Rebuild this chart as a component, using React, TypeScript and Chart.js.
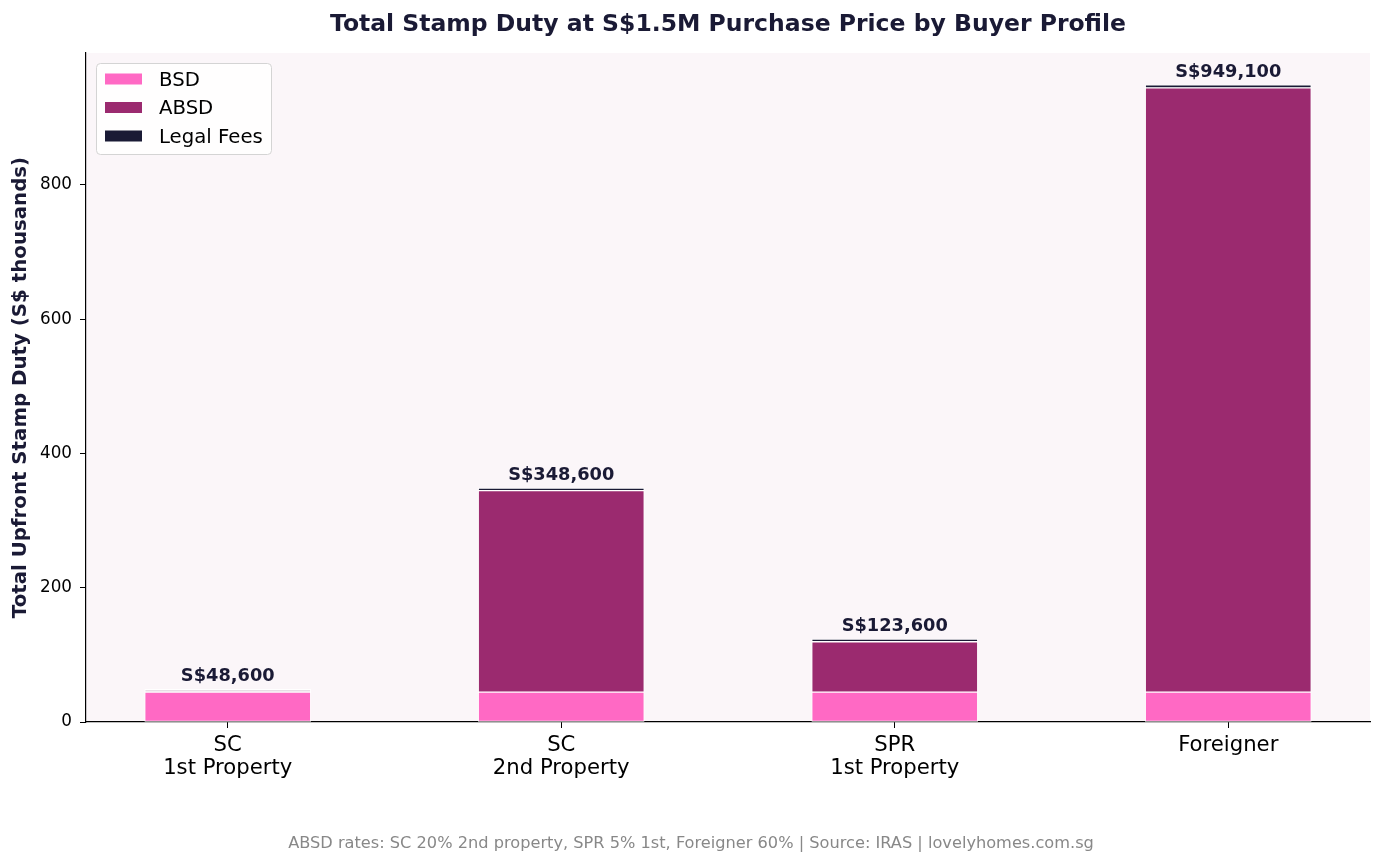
import { useEffect, useRef } from "react";
import { Chart, registerables } from "chart.js";
import type { Plugin } from "chart.js";

Chart.register(...registerables);

// values in S$ thousands
const categories = [["SC", "1st Property"], ["SC", "2nd Property"], ["SPR", "1st Property"], ["Foreigner"]];
const bsd = [44.6, 44.6, 44.6, 44.6];
const absd = [0, 300, 75, 900];
const legalFees = [4, 4, 4, 4.5];
const yTicks = [0, 200, 400, 600, 800];

const PINK = "#ff69c4";
const PLUM = "#9b2a6f";
const NAVY = "#1a1a35";
const FONT = "'DejaVu Sans', sans-serif";

const totals = bsd.map((v, i) => v + absd[i] + legalFees[i]);
const yMax = Math.max(...totals) * 1.05;

const plotBackground: Plugin<"bar"> = {
  id: "plotBackground",
  beforeDraw(chart) {
    const { ctx, chartArea } = chart;
    ctx.save();
    ctx.fillStyle = "#fbf6f9";
    ctx.fillRect(chartArea.left, chartArea.top, chartArea.right - chartArea.left, chartArea.bottom - chartArea.top);
    ctx.restore();
  },
};

const annotations: Plugin<"bar"> = {
  id: "annotations",
  afterDraw(chart) {
    const { ctx, chartArea, scales } = chart;
    ctx.save();

    // title
    ctx.fillStyle = NAVY;
    ctx.font = `bold 23.5px ${FONT}`;
    ctx.textAlign = "center";
    ctx.textBaseline = "middle";
    ctx.fillText(
      "Total Stamp Duty at S$1.5M Purchase Price by Buyer Profile",
      (chartArea.left + chartArea.right) / 2,
      24.5,
    );

    // total labels above bars
    ctx.font = `bold 17.8px ${FONT}`;
    totals.forEach((total, i) => {
      const x = scales.x.getPixelForValue(i);
      const y = scales.y.getPixelForValue(total);
      const text = `S$${Math.round(total * 1000).toLocaleString("en-US")}`;
      ctx.fillText(text, x, y - 12.5);
    });

    // footnote
    ctx.fillStyle = "#888888";
    ctx.font = `16.2px ${FONT}`;
    ctx.fillText(
      "ABSD rates: SC 20% 2nd property, SPR 5% 1st, Foreigner 60% | Source: IRAS | lovelyhomes.com.sg",
      chart.width / 2,
      843.5,
    );

    // legend box
    const bx = 96;
    const by = 63;
    const bw = 175;
    const bh = 91;
    ctx.beginPath();
    ctx.roundRect(bx + 0.5, by + 0.5, bw, bh, 4);
    ctx.fillStyle = "rgba(255,255,255,0.85)";
    ctx.fill();
    ctx.strokeStyle = "#d4d4d4";
    ctx.lineWidth = 1;
    ctx.stroke();

    const items = [
      { label: "BSD", color: PINK },
      { label: "ABSD", color: PLUM },
      { label: "Legal Fees", color: NAVY },
    ];
    ctx.font = `19.7px ${FONT}`;
    ctx.textAlign = "left";
    items.forEach((item, i) => {
      const cy = 79 + i * 28.5;
      ctx.fillStyle = item.color;
      ctx.fillRect(105, cy - 5.5, 37, 11);
      ctx.fillStyle = "#000000";
      ctx.fillText(item.label, 159, cy + 1.5);
    });

    ctx.restore();
  },
};

export default function App() {
  const canvasRef = useRef<HTMLCanvasElement | null>(null);

  useEffect(() => {
    const canvas = canvasRef.current;
    if (!canvas) return;

    const barStyle = {
      borderColor: "#ffffff",
      borderWidth: 1,
      borderSkipped: false as const,
      barThickness: 166,
    };

    const chart = new Chart(canvas, {
      type: "bar",
      data: {
        datasets: [
          {
            label: "BSD",
            data: bsd.map((v, i) => ({ x: i, y: v })),
            backgroundColor: PINK,
            ...barStyle,
          },
          {
            label: "ABSD",
            data: absd.map((v, i) => ({ x: i, y: v })),
            backgroundColor: PLUM,
            ...barStyle,
          },
          {
            label: "Legal Fees",
            data: legalFees.map((v, i) => ({ x: i, y: v })),
            backgroundColor: ["#e8dbe5", NAVY, NAVY, NAVY],
            ...barStyle,
          },
        ],
      },
      options: {
        animation: false,
        responsive: true,
        maintainAspectRatio: false,
        layout: { padding: { top: 53, right: 12, left: 0, bottom: 0 } },
        plugins: {
          legend: { display: false },
          tooltip: { enabled: false },
        },
        scales: {
          x: {
            type: "linear",
            stacked: true,
            offset: false,
            min: -0.425,
            max: 3.425,
            afterBuildTicks(scale) {
              scale.ticks = categories.map((_, i) => ({ value: i }));
            },
            afterFit(scale) {
              scale.height = 142;
            },
            grid: {
              offset: false,
              drawOnChartArea: false,
              drawTicks: true,
              tickLength: 6,
              color: "#000000",
            },
            border: { display: true, color: "#000000", width: 1.2 },
            ticks: {
              autoSkip: false,
              maxRotation: 0,
              padding: 6,
              color: "#000000",
              font: { family: FONT, size: 21.2, lineHeight: 1.1 },
              callback(value) {
                return categories[Number(value)] ?? "";
              },
            },
          },
          y: {
            stacked: true,
            min: 0,
            max: yMax,
            afterBuildTicks(scale) {
              scale.ticks = yTicks.map((v) => ({ value: v }));
            },
            afterFit(scale) {
              scale.width = 86;
            },
            grid: {
              drawOnChartArea: false,
              drawTicks: true,
              tickLength: 6,
              color: "#000000",
            },
            border: { display: true, color: "#000000", width: 1.2 },
            ticks: {
              padding: 8,
              color: "#000000",
              font: { family: FONT, size: 16.8 },
            },
            title: {
              display: true,
              text: "Total Upfront Stamp Duty (S$ thousands)",
              color: NAVY,
              padding: { top: 9, bottom: 0 },
              font: { family: FONT, size: 19.8, weight: "bold", lineHeight: 1.2 },
            },
          },
        },
      },
      plugins: [plotBackground, annotations],
    });

    return () => {
      chart.destroy();
    };
  }, []);

  return (
    <div style={{ position: "fixed", left: 0, top: 0, width: 1382, height: 864, background: "#ffffff" }}>
      <canvas ref={canvasRef} />
    </div>
  );
}
